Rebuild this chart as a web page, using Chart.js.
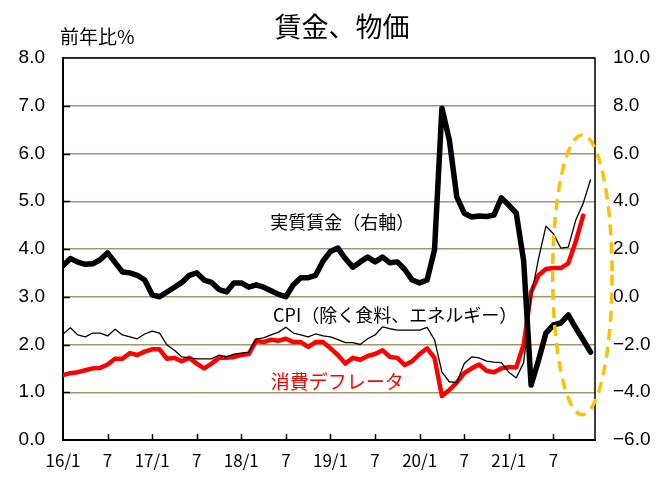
<!DOCTYPE html>
<html lang="ja">
<head>
<meta charset="utf-8">
<title>賃金、物価</title>
<script src="https://cdn.jsdelivr.net/npm/chart.js@4.4.1/dist/chart.umd.min.js"></script>
<style>
  html, body { margin: 0; padding: 0; background: #fff; }
  #wrap { width: 659px; height: 477px; }
</style>
</head>
<body>
<div id="wrap"><canvas id="wageChart" width="659" height="477"></canvas></div>
<script>
// monthly, 2016/1 .. 2021/12
const xTickLabels = ['16/1', '7', '17/1', '7', '18/1', '7', '19/1', '7', '20/1', '7', '21/1', '7'];

// 実質賃金 (right axis, %)
const realWage = [
  1.3, 1.6, 1.45, 1.36, 1.38, 1.55, 1.84, 1.44, 1.04, 1.0, 0.9, 0.7,
  0.08, 0.0, 0.2, 0.4, 0.6, 0.9, 1.0, 0.7, 0.6, 0.3, 0.2, 0.58,
  0.58, 0.4, 0.5, 0.4, 0.25, 0.1, 0.0, 0.5, 0.8, 0.8, 0.9, 1.5,
  1.9, 2.04, 1.6, 1.24, 1.46, 1.66, 1.46, 1.66, 1.42, 1.46, 1.14, 0.7,
  0.58, 0.7, 1.96, 7.9, 6.56, 4.18, 3.5, 3.34, 3.38, 3.36, 3.42, 4.14,
  3.84, 3.5, 1.5, -3.7, -2.66, -1.52, -1.18, -1.1, -0.76, -1.3, -1.8, -2.32
];

// CPI（除く食料、エネルギー） (left axis, %)
const coreCpi = [
  2.22, 2.35, 2.2, 2.16, 2.24, 2.24, 2.18, 2.32, 2.2, 2.16, 2.12, 2.22,
  2.28, 2.24, 1.99, 1.88, 1.74, 1.72, 1.7, 1.7, 1.7, 1.78, 1.74, 1.8,
  1.82, 1.84, 2.12, 2.14, 2.2, 2.26, 2.36, 2.24, 2.2, 2.16, 2.22, 2.18,
  2.16, 2.1, 2.04, 2.04, 2.0, 2.12, 2.2, 2.37, 2.33, 2.3, 2.3, 2.3,
  2.3, 2.36, 2.1, 1.42, 1.22, 1.2, 1.6, 1.74, 1.72, 1.65, 1.63, 1.62,
  1.42, 1.3, 1.62, 3.0, 3.8, 4.48, 4.32, 4.02, 4.04, 4.6, 4.95, 5.45
];

// 消費デフレータ (left axis, %)
const pceDeflator = [
  1.36, 1.4, 1.42, 1.46, 1.5, 1.51, 1.58, 1.7, 1.7, 1.82, 1.78, 1.85,
  1.9, 1.9, 1.7, 1.72, 1.65, 1.72, 1.6, 1.5, 1.6, 1.72, 1.72, 1.74,
  1.78, 1.8, 2.08, 2.05, 2.1, 2.08, 2.12, 2.05, 2.05, 1.95, 2.05, 2.05,
  1.92, 1.78, 1.6, 1.72, 1.68, 1.76, 1.8, 1.88, 1.74, 1.72, 1.57, 1.65,
  1.8, 1.92, 1.72, 0.92, 1.05, 1.2, 1.4, 1.5, 1.58, 1.45, 1.42, 1.5,
  1.53, 1.52, 2.0, 3.1, 3.45, 3.58, 3.6, 3.6, 3.7, 4.15, 4.7, null
];

const toPoints = arr => arr.map((v, i) => ({ x: i, y: v }));
const JP = '"Noto Sans CJK JP", "Noto Sans", sans-serif';
const NUM = '"Liberation Sans", Arial, sans-serif';

// title, unit, labels, plot frame, inside ticks, dashed ellipse
const decorations = {
  id: 'decorations',
  afterDatasetsDraw(chart) {
    const { ctx, chartArea: a, scales } = chart;
    const x = scales.x, yl = scales.y;
    ctx.save();

    // inside tick marks
    ctx.strokeStyle = '#000';
    ctx.lineWidth = 1.5;
    ctx.beginPath();
    for (let i = 1; i < xTickLabels.length; i++) {
      const px = Math.round(x.getPixelForValue(i * 6)) + 0.5;
      ctx.moveTo(px, a.bottom);
      ctx.lineTo(px, a.bottom - 6);
    }
    for (let v = 1; v < 8; v++) {
      const py = Math.round(yl.getPixelForValue(v)) + 0.5;
      ctx.moveTo(a.left, py);
      ctx.lineTo(a.left + 7, py);
    }
    ctx.stroke();

    // top and right frame
    ctx.beginPath();
    ctx.moveTo(a.left, a.top);
    ctx.lineTo(a.right, a.top);
    ctx.lineTo(a.right, a.bottom);
    ctx.stroke();

    // series labels
    ctx.textAlign = 'center';
    ctx.textBaseline = 'middle';
    ctx.fillStyle = '#000';
    ctx.font = '18px ' + JP;
    ctx.fillText('実質賃金（右軸）', x.getPixelForValue(37.6), yl.getPixelForValue(4.57));
    ctx.fillText('CPI（除く食料、エネルギー）', x.getPixelForValue(44.7), yl.getPixelForValue(2.62));
    ctx.fillStyle = '#ff0000';
    ctx.font = '19px ' + JP;
    ctx.fillText('消費デフレータ', x.getPixelForValue(36.9), yl.getPixelForValue(1.21));

    // dashed highlight ellipse
    const cx = x.getPixelForValue(69.9), cy = yl.getPixelForValue(3.46);
    const rx = x.getPixelForValue(4.0) - x.getPixelForValue(0);
    const ry = yl.getPixelForValue(0) - yl.getPixelForValue(2.93);
    ctx.strokeStyle = '#ffc000';
    ctx.lineWidth = 3.5;
    ctx.setLineDash([11, 7]);
    ctx.beginPath();
    ctx.ellipse(cx, cy, rx, ry, 0, 0, Math.PI * 2);
    ctx.stroke();
    ctx.setLineDash([]);

    // title + unit
    ctx.fillStyle = '#000';
    ctx.font = '27px ' + JP;
    ctx.fillText('賃金、物価', 342, 27);
    ctx.textAlign = 'left';
    ctx.font = '19px ' + JP;
    ctx.fillText('前年比%', 60, 37);
    ctx.restore();
  }
};

new Chart(document.getElementById('wageChart'), {
  type: 'line',
  data: {
    datasets: [
      {
        label: '実質賃金（右軸）',
        data: toPoints(realWage),
        yAxisID: 'y1',
        borderColor: '#000',
        borderWidth: 5.5,
        order: 1
      },
      {
        label: 'CPI（除く食料、エネルギー）',
        data: toPoints(coreCpi),
        yAxisID: 'y',
        borderColor: '#000',
        borderWidth: 1.3,
        order: 2
      },
      {
        label: '消費デフレータ',
        data: toPoints(pceDeflator),
        yAxisID: 'y',
        borderColor: '#ff0000',
        borderWidth: 4.5,
        order: 3
      }
    ]
  },
  options: {
    responsive: false,
    animation: false,
    events: [],
    elements: { point: { radius: 0 }, line: { tension: 0, borderJoinStyle: 'round', borderCapStyle: 'round' } },
    layout: { padding: { top: 58, left: 0, right: 0, bottom: 0 } },
    plugins: { legend: { display: false }, tooltip: { enabled: false }, title: { display: false } },
    scales: {
      x: {
        type: 'linear',
        min: 0,
        max: 71.6,
        afterBuildTicks: s => { s.ticks = xTickLabels.map((_, i) => ({ value: i * 6 })); },
        afterFit: s => { s.height = 37; },
        grid: { display: false, drawTicks: false },
        border: { display: true, color: '#000', width: 2 },
        ticks: {
          autoSkip: false,
          maxRotation: 0,
          padding: 10,
          color: '#000',
          font: { family: JP, size: 17 },
          callback: (v) => xTickLabels[Math.round(v / 6)]
        }
      },
      y: {
        position: 'left',
        min: 0,
        max: 8,
        afterFit: s => { s.width = 63; },
        grid: { color: '#a0986c', lineWidth: 1.5, drawTicks: false },
        border: { display: true, color: '#000', width: 2 },
        ticks: {
          stepSize: 1,
          padding: 18,
          color: '#000',
          font: { family: NUM, size: 19 },
          callback: v => v.toFixed(1)
        }
      },
      y1: {
        position: 'right',
        min: -6,
        max: 10,
        afterFit: s => { s.width = 64; },
        grid: { display: false, drawTicks: false },
        border: { display: false },
        ticks: {
          stepSize: 2,
          padding: 18,
          color: '#000',
          font: { family: NUM, size: 19 },
          callback: v => v.toFixed(1).replace('-', '−')
        }
      }
    }
  },
  plugins: [decorations]
});
</script>
</body>
</html>
